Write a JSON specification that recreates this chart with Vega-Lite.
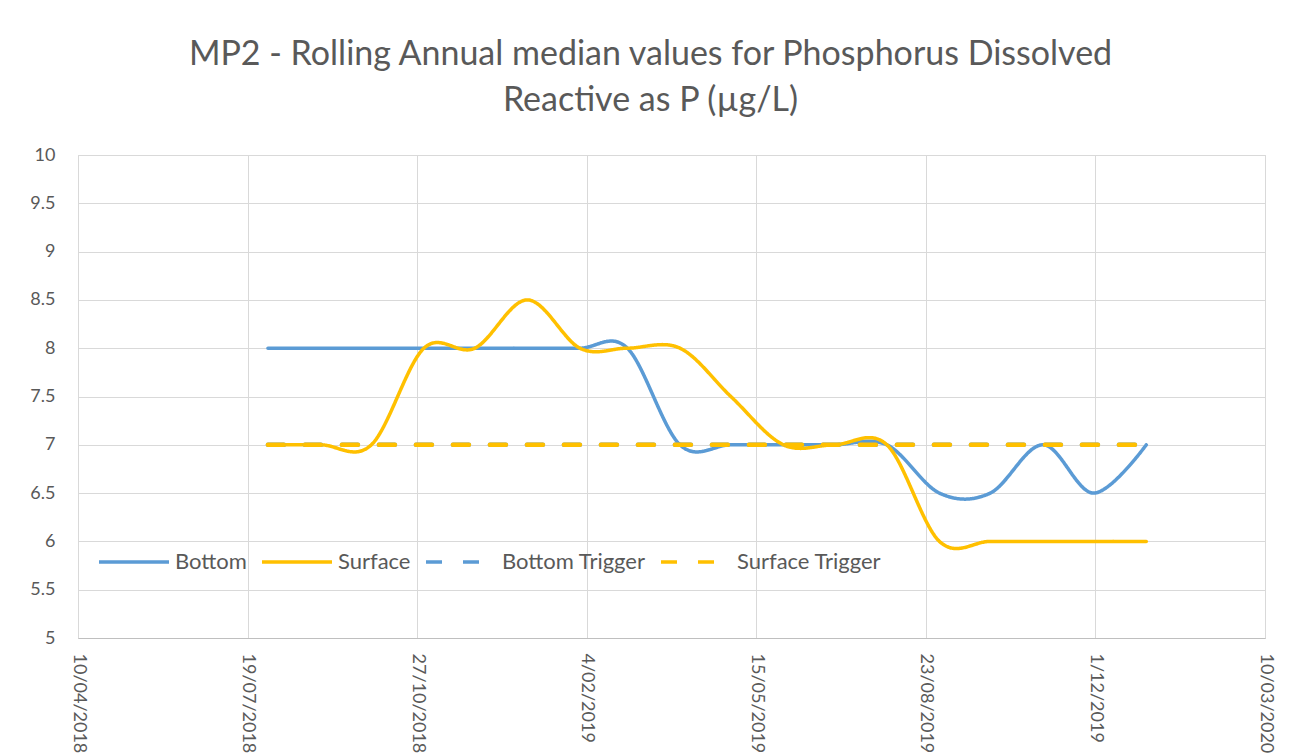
{
  "$schema": "https://vega.github.io/schema/vega-lite/v6.json",
  "width": 1187,
  "height": 483,
  "autosize": {"type": "none"},
  "padding": {"left": 78, "top": 155, "right": 38, "bottom": 115},
  "background": "white",
  "config": {"view": {"stroke": "#D9D9D9", "strokeWidth": 1}, "font": "Lato"},
  "title": {
    "text": ["MP2 - Rolling Annual median values for Phosphorus Dissolved", "Reactive as P (µg/L)"],
    "fontSize": 34,
    "font": "Lato",
    "fontWeight": "normal",
    "color": "#595959",
    "anchor": "middle",
    "dx": -21,
    "offset": 28,
    "lineHeight": 46
  },
  "data": {
    "values": [
      {"date": "2018-07-31", "series": "Bottom", "value": 8},
      {"date": "2018-08-31", "series": "Bottom", "value": 8},
      {"date": "2018-09-30", "series": "Bottom", "value": 8},
      {"date": "2018-10-31", "series": "Bottom", "value": 8},
      {"date": "2018-11-30", "series": "Bottom", "value": 8},
      {"date": "2018-12-31", "series": "Bottom", "value": 8},
      {"date": "2019-01-31", "series": "Bottom", "value": 8},
      {"date": "2019-02-28", "series": "Bottom", "value": 8},
      {"date": "2019-03-31", "series": "Bottom", "value": 7},
      {"date": "2019-04-30", "series": "Bottom", "value": 7},
      {"date": "2019-05-31", "series": "Bottom", "value": 7},
      {"date": "2019-06-30", "series": "Bottom", "value": 7},
      {"date": "2019-07-31", "series": "Bottom", "value": 7},
      {"date": "2019-08-31", "series": "Bottom", "value": 6.5},
      {"date": "2019-09-30", "series": "Bottom", "value": 6.5},
      {"date": "2019-10-31", "series": "Bottom", "value": 7},
      {"date": "2019-11-30", "series": "Bottom", "value": 6.5},
      {"date": "2019-12-31", "series": "Bottom", "value": 7},
      {"date": "2018-07-31", "series": "Surface", "value": 7},
      {"date": "2018-08-31", "series": "Surface", "value": 7},
      {"date": "2018-09-30", "series": "Surface", "value": 7},
      {"date": "2018-10-31", "series": "Surface", "value": 8},
      {"date": "2018-11-30", "series": "Surface", "value": 8},
      {"date": "2018-12-31", "series": "Surface", "value": 8.5},
      {"date": "2019-01-31", "series": "Surface", "value": 8},
      {"date": "2019-02-28", "series": "Surface", "value": 8},
      {"date": "2019-03-31", "series": "Surface", "value": 8},
      {"date": "2019-04-30", "series": "Surface", "value": 7.5},
      {"date": "2019-05-31", "series": "Surface", "value": 7},
      {"date": "2019-06-30", "series": "Surface", "value": 7},
      {"date": "2019-07-31", "series": "Surface", "value": 7},
      {"date": "2019-08-31", "series": "Surface", "value": 6},
      {"date": "2019-09-30", "series": "Surface", "value": 6},
      {"date": "2019-10-31", "series": "Surface", "value": 6},
      {"date": "2019-11-30", "series": "Surface", "value": 6},
      {"date": "2019-12-31", "series": "Surface", "value": 6},
      {"date": "2018-07-31", "series": "Bottom Trigger", "value": 7},
      {"date": "2018-08-31", "series": "Bottom Trigger", "value": 7},
      {"date": "2018-09-30", "series": "Bottom Trigger", "value": 7},
      {"date": "2018-10-31", "series": "Bottom Trigger", "value": 7},
      {"date": "2018-11-30", "series": "Bottom Trigger", "value": 7},
      {"date": "2018-12-31", "series": "Bottom Trigger", "value": 7},
      {"date": "2019-01-31", "series": "Bottom Trigger", "value": 7},
      {"date": "2019-02-28", "series": "Bottom Trigger", "value": 7},
      {"date": "2019-03-31", "series": "Bottom Trigger", "value": 7},
      {"date": "2019-04-30", "series": "Bottom Trigger", "value": 7},
      {"date": "2019-05-31", "series": "Bottom Trigger", "value": 7},
      {"date": "2019-06-30", "series": "Bottom Trigger", "value": 7},
      {"date": "2019-07-31", "series": "Bottom Trigger", "value": 7},
      {"date": "2019-08-31", "series": "Bottom Trigger", "value": 7},
      {"date": "2019-09-30", "series": "Bottom Trigger", "value": 7},
      {"date": "2019-10-31", "series": "Bottom Trigger", "value": 7},
      {"date": "2019-11-30", "series": "Bottom Trigger", "value": 7},
      {"date": "2019-12-31", "series": "Bottom Trigger", "value": 7},
      {"date": "2018-07-31", "series": "Surface Trigger", "value": 7},
      {"date": "2018-08-31", "series": "Surface Trigger", "value": 7},
      {"date": "2018-09-30", "series": "Surface Trigger", "value": 7},
      {"date": "2018-10-31", "series": "Surface Trigger", "value": 7},
      {"date": "2018-11-30", "series": "Surface Trigger", "value": 7},
      {"date": "2018-12-31", "series": "Surface Trigger", "value": 7},
      {"date": "2019-01-31", "series": "Surface Trigger", "value": 7},
      {"date": "2019-02-28", "series": "Surface Trigger", "value": 7},
      {"date": "2019-03-31", "series": "Surface Trigger", "value": 7},
      {"date": "2019-04-30", "series": "Surface Trigger", "value": 7},
      {"date": "2019-05-31", "series": "Surface Trigger", "value": 7},
      {"date": "2019-06-30", "series": "Surface Trigger", "value": 7},
      {"date": "2019-07-31", "series": "Surface Trigger", "value": 7},
      {"date": "2019-08-31", "series": "Surface Trigger", "value": 7},
      {"date": "2019-09-30", "series": "Surface Trigger", "value": 7},
      {"date": "2019-10-31", "series": "Surface Trigger", "value": 7},
      {"date": "2019-11-30", "series": "Surface Trigger", "value": 7},
      {"date": "2019-12-31", "series": "Surface Trigger", "value": 7}
    ]
  },
  "encoding": {
    "x": {
      "field": "date",
      "type": "temporal",
      "scale": {
        "type": "utc",
        "domain": [
          {"year": 2018, "month": 4, "date": 10, "utc": true},
          {"year": 2020, "month": 3, "date": 10, "utc": true}
        ]
      },
      "axis": {
        "title": null,
        "values": [
          {"year": 2018, "month": 4, "date": 10, "utc": true},
          {"year": 2018, "month": 7, "date": 19, "utc": true},
          {"year": 2018, "month": 10, "date": 27, "utc": true},
          {"year": 2019, "month": 2, "date": 4, "utc": true},
          {"year": 2019, "month": 5, "date": 15, "utc": true},
          {"year": 2019, "month": 8, "date": 23, "utc": true},
          {"year": 2019, "month": 12, "date": 1, "utc": true},
          {"year": 2020, "month": 3, "date": 10, "utc": true}
        ],
        "labelExpr": "utcFormat(datum.value, '%-d/%m/%Y')",
        "labelAngle": 90,
        "labelFontSize": 18,
        "labelFont": "Lato",
        "labelColor": "#595959",
        "labelPadding": 15,
        "labelOverlap": false,
        "labelFlush": false,
        "labelBound": false,
        "ticks": false,
        "domain": true,
        "domainColor": "#BFBFBF",
        "domainWidth": 1,
        "grid": true,
        "gridColor": "#D9D9D9",
        "gridWidth": 1
      }
    },
    "y": {
      "field": "value",
      "type": "quantitative",
      "scale": {"domain": [5, 10], "nice": false, "zero": false},
      "axis": {
        "title": null,
        "values": [5, 5.5, 6, 6.5, 7, 7.5, 8, 8.5, 9, 9.5, 10],
        "labelExpr": "'' + datum.value",
        "labelFontSize": 18,
        "labelFont": "Lato",
        "labelColor": "#595959",
        "labelPadding": 23,
        "ticks": false,
        "domain": false,
        "grid": true,
        "gridColor": "#D9D9D9",
        "gridWidth": 1
      }
    },
    "color": {
      "field": "series",
      "type": "nominal",
      "scale": {
        "domain": ["Bottom", "Surface", "Bottom Trigger", "Surface Trigger"],
        "range": ["#5B9BD5", "#FFC000", "#5B9BD5", "#FFC000"]
      },
      "legend": {
        "title": null,
        "orient": "none",
        "legendX": 19,
        "legendY": 370,
        "direction": "horizontal",
        "symbolType": "stroke",
        "symbolSize": 4900,
        "symbolStrokeWidth": 3.5,
        "labelFontSize": 22,
        "labelFont": "Lato",
        "labelColor": "#595959",
        "labelOffset": 4,
        "columnPadding": 8,
        "padding": 0
      }
    },
    "strokeDash": {
      "field": "series",
      "type": "nominal",
      "scale": {
        "domain": ["Bottom", "Surface", "Bottom Trigger", "Surface Trigger"],
        "range": [[1, 0], [1, 0], [16, 21], [16, 21]]
      },
      "legend": {
        "title": null,
        "orient": "none",
        "legendX": 19,
        "legendY": 370,
        "direction": "horizontal",
        "symbolType": "stroke",
        "symbolSize": 4900,
        "symbolStrokeWidth": 3.5,
        "labelFontSize": 22,
        "labelFont": "Lato",
        "labelColor": "#595959",
        "labelOffset": 4,
        "columnPadding": 8,
        "padding": 0
      }
    }
  },
  "layer": [
    {
      "transform": [{"filter": "datum.series === 'Bottom'"}],
      "mark": {"type": "line", "interpolate": "cardinal", "strokeWidth": 3.5, "strokeCap": "round"}
    },
    {
      "transform": [{"filter": "datum.series === 'Surface'"}],
      "mark": {"type": "line", "interpolate": "cardinal", "strokeWidth": 3.5, "strokeCap": "round"}
    },
    {
      "transform": [{"filter": "datum.series === 'Bottom Trigger'"}],
      "mark": {"type": "line", "strokeWidth": 4.5, "strokeCap": "round"}
    },
    {
      "transform": [{"filter": "datum.series === 'Surface Trigger'"}],
      "mark": {"type": "line", "strokeWidth": 4.5, "strokeCap": "round"}
    }
  ]
}
